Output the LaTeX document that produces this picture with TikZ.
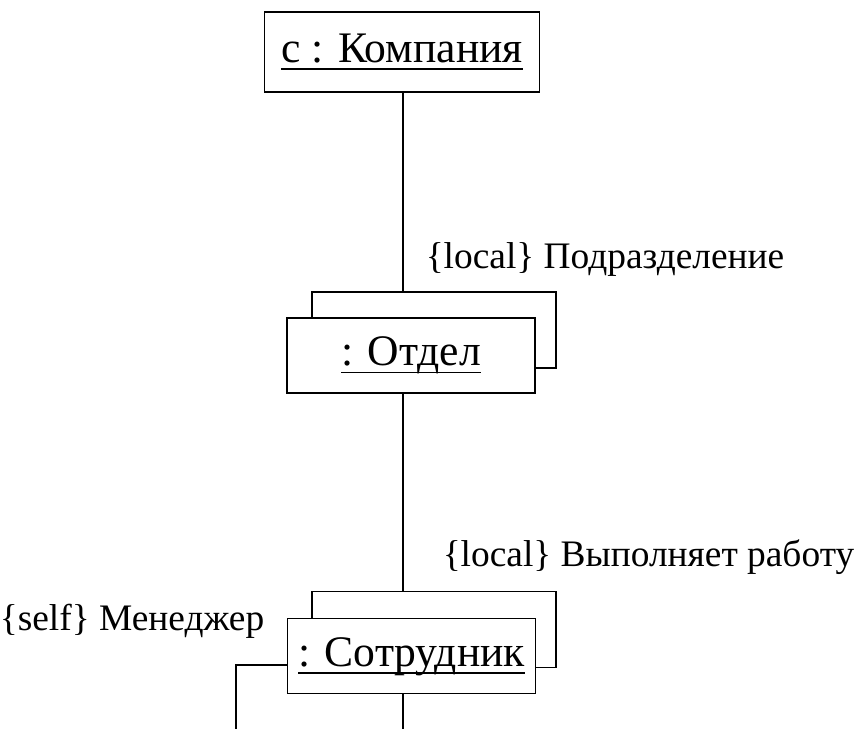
\documentclass[tikz,border=0pt]{standalone}
\usepackage{fontspec}
\setmainfont{Liberation Serif}
\usepackage{tikz}
\usetikzlibrary{positioning}

% underlined object name (UML object box)
\newcommand{\objname}[1]{\setbox0\hbox{#1}\rlap{\rule[-3.6pt]{\wd0}{0.7pt}}\box0}

\begin{document}
\begin{tikzpicture}[
    x=0.5pt, y=-0.5pt,
    line width=0.75pt,
    obj/.style={draw, fill=white, inner sep=0pt,
        minimum width=124pt, minimum height=37.5pt,
        text height=14pt, text depth=3.6pt,
        font=\fontsize{21.8}{26}\selectfont},
    objback/.style={draw, fill=white, inner sep=0pt,
        minimum width=122pt, minimum height=38pt},
    rolelbl/.style={inner sep=0pt, font=\fontsize{18.7}{22}\selectfont}
]
\useasboundingbox (0,0) rectangle (854,729);

%-------------------------
% Company
%-------------------------
\node[obj, minimum width=137.5pt, minimum height=40pt] (company) at (402,52) {\objname{с : Компания}};

%-------------------------
% Department (multiobject)
%-------------------------
\node[objback] (otdelB) at (434,330) {};
\node[obj] (otdel) at (411,355.5) {\objname{: Отдел}};

%-------------------------
% Employee (multiobject)
%-------------------------
\node[objback] (sotrB) at (434,629.5) {};
\node[obj] (sotr) at (411.5,656) {\objname{: Сотрудник}};

% free ends at the bottom edge
\coordinate (botend) at (403,729);
\coordinate (selfend) at (236,729);

%-------------------------
% Links
%-------------------------
\draw (botend |- company.south) -- (botend |- otdelB.north);
\draw (botend |- otdel.south) -- (botend |- sotrB.north);
\draw (botend |- sotr.south) -- (botend);
\draw ([yshift=-4.5pt]sotr.west) -| (selfend);

% Role labels
\node[rolelbl, anchor=base west] (lblpodr) at (425,268) {\{local\} Подразделение};
\node[rolelbl, anchor=base west] (lblvyp) at (442,566.7) {\{local\} Выполняет работу};
\node[rolelbl, anchor=base east] (lblmgr) at (265,630) {\{self\} Менеджер};
\end{tikzpicture}
\end{document}
